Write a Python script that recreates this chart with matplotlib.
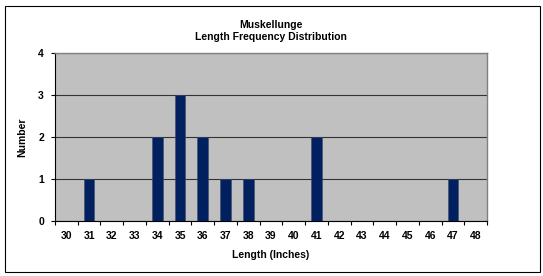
import matplotlib
matplotlib.use('Agg')
import matplotlib.pyplot as plt
from matplotlib.patches import Rectangle

# Length frequency data
lengths = [30, 31, 32, 33, 34, 35, 36, 37, 38, 39, 40, 41, 42, 43, 44, 45, 46, 47, 48]
counts = [0, 1, 0, 0, 2, 3, 2, 1, 1, 0, 0, 2, 0, 0, 0, 0, 0, 1, 0]
yticks = [0, 1, 2, 3, 4]

plt.rcParams['font.family'] = ['Liberation Sans', 'DejaVu Sans']
plt.rcParams['font.weight'] = 'bold'

fig = plt.figure(figsize=(5.43, 2.76), dpi=100)
ax = fig.add_axes([55 / 543, 1 - 221 / 276, 432 / 543, 168 / 276])

# outer chart frame
fig.patches.append(Rectangle((5 / 543, 4 / 276), 535 / 543, 266 / 276, transform=fig.transFigure,
                             fill=False, edgecolor='#000000', linewidth=0.8))

pos = list(range(len(lengths)))
ax.set_facecolor('#C0C0C0')
ax.bar(pos, counts, width=0.47, color='#002060', edgecolor='#404a6a', linewidth=0.4, zorder=3)

ax.set_xlim(-0.5, len(lengths) - 0.5)
ax.set_ylim(0, 4)
ax.set_yticks(yticks)
ax.set_yticklabels([str(v) for v in yticks], fontsize=7.5, fontweight='bold')
ax.yaxis.grid(True, color='#333333', linewidth=0.8, zorder=1)

ax.set_xticks(pos)
ax.set_xticklabels([str(v) for v in lengths], fontsize=7.5, fontweight='bold')
ax.tick_params(axis='x', length=0, pad=7)
ax.set_xticks([p - 0.5 for p in range(len(lengths) + 1)], minor=True)
ax.tick_params(axis='x', which='minor', length=3, width=0.8, color='#000000', direction='out')
ax.tick_params(axis='y', length=3, width=0.8, direction='out', pad=5)

for side in ['top', 'right']:
    ax.spines[side].set_color('#808080')
    ax.spines[side].set_linewidth(1.0)
ax.spines['left'].set_color('#000000')
ax.spines['bottom'].set_color('#000000')
ax.spines['left'].set_linewidth(0.8)
ax.spines['bottom'].set_linewidth(0.8)

ax.set_xlabel('Length (Inches)', fontsize=7.5, fontweight='bold', labelpad=7)
ax.set_ylabel('Number', fontsize=7.5, fontweight='bold', labelpad=8)
ax.set_title('Muskellunge\nLength Frequency Distribution', fontsize=7.5, fontweight='bold',
             linespacing=1.35, pad=9)

fig.savefig('out.png', dpi=100)
